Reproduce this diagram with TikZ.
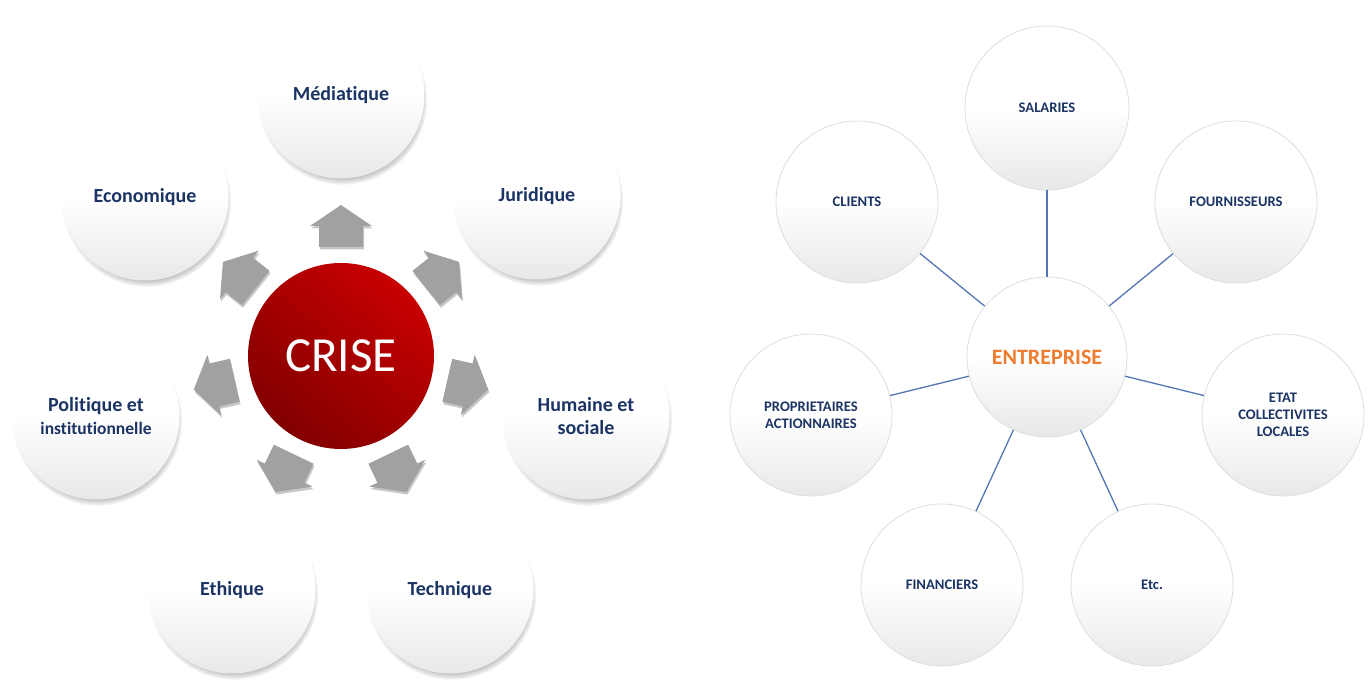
\documentclass[tikz,border=0pt]{standalone}
\usepackage{fontspec}
\setmainfont{Carlito}[Ligatures=NoCommon]
\usepackage{xcolor}
\usetikzlibrary{shadows}
\definecolor{navy}{RGB}{27,52,100}
\definecolor{crisedark}{RGB}{130,0,0}
\definecolor{criselight}{RGB}{200,0,0}
\definecolor{linkblue}{RGB}{84,117,180}
\definecolor{entorange}{RGB}{237,125,49}

\begin{document}
\begin{tikzpicture}[x=1pt,y=1pt,
	ball/.style={circle, minimum size=167pt, top color=white, bottom color=black!9, middle color=white,
		circular drop shadow={shadow scale=1.015, shadow xshift=1.5pt, shadow yshift=-5pt, opacity=0.85},
		text=navy, font=\bfseries\fontsize{20}{23}\selectfont, align=center},
	stake/.style={circle, minimum size=162pt, draw=black!13, line width=0.8pt,
		top color=white, bottom color=black!9, middle color=white,
		text=navy, font=\bfseries\fontsize{14.6}{17}\selectfont, align=center},
	crisearrow/.style={fill=black!37, preaction={fill=black!22, transform canvas={xshift=1pt, yshift=-2.5pt}}},
	link/.style={draw=linkblue, line width=1.3pt}]
	\tikzstyle{every node}+=[inner sep=0pt]
	\useasboundingbox (0,0) rectangle (1371,682);
	% left: crise
	\node [circle, minimum size=186pt, shading=axis, top color=criselight, bottom color=crisedark, shading angle=-40,
		text=white, font=\fontsize{49}{50}\selectfont] (crise) at (341,326) {CRISE};
	\node [ball] (med) at (341,587) {Médiatique};
	\node [ball] (jur) at (537,486) {Juridique};
	\node [ball] (hum) at (586,266) {Humaine et\\sociale};
	\node [ball] (tec) at (450,92) {Technique};
	\node [ball] (eth) at (232,92) {Ethique};
	\node [ball] (pol) at (96,266) {Politique et\\{\fontsize{17.5}{20}\selectfont institutionnelle}};
	\node [ball] (eco) at (145,485) {Economique};
	\fill [crisearrow, shift={(crise.center)}, rotate=0] (-22,109) -- (-22,130) -- (-31,130) -- (0,151) -- (31,130) -- (22,130) -- (22,109) -- cycle;
	\fill [crisearrow, shift={(crise.center)}, rotate=-51.43] (-22,109) -- (-22,130) -- (-31,130) -- (0,151) -- (31,130) -- (22,130) -- (22,109) -- cycle;
	\fill [crisearrow, shift={(crise.center)}, rotate=-102.86] (-22,109) -- (-22,130) -- (-31,130) -- (0,151) -- (31,130) -- (22,130) -- (22,109) -- cycle;
	\fill [crisearrow, shift={(crise.center)}, rotate=-154.29] (-22,109) -- (-22,130) -- (-31,130) -- (0,151) -- (31,130) -- (22,130) -- (22,109) -- cycle;
	\fill [crisearrow, shift={(crise.center)}, rotate=154.29] (-22,109) -- (-22,130) -- (-31,130) -- (0,151) -- (31,130) -- (22,130) -- (22,109) -- cycle;
	\fill [crisearrow, shift={(crise.center)}, rotate=102.86] (-22,109) -- (-22,130) -- (-31,130) -- (0,151) -- (31,130) -- (22,130) -- (22,109) -- cycle;
	\fill [crisearrow, shift={(crise.center)}, rotate=51.43] (-22,109) -- (-22,130) -- (-31,130) -- (0,151) -- (31,130) -- (22,130) -- (22,109) -- cycle;
	% right: entreprise
	\node [stake, minimum size=160pt, text=entorange, font=\bfseries\fontsize{22}{24}\selectfont] (ent) at (1047,325) {ENTREPRISE};
	\node [stake, minimum size=164pt] (sal) at (1047,574) {SALARIES};
	\node [stake] (cli) at (857,480) {CLIENTS};
	\node [stake] (fou) at (1236,480) {FOURNISSEURS};
	\node [stake] (eta) at (1283,267) {ETAT\\COLLECTIVITES\\LOCALES};
	\node [stake] (etc) at (1152,97) {Etc.};
	\node [stake] (fin) at (942,97) {FINANCIERS};
	\node [stake] (pro) at (811,267) {PROPRIETAIRES\\ACTIONNAIRES};
	\draw [link] (ent) -- (sal);
	\draw [link] (ent) -- (cli);
	\draw [link] (ent) -- (fou);
	\draw [link] (ent) -- (eta);
	\draw [link] (ent) -- (etc);
	\draw [link] (ent) -- (fin);
	\draw [link] (ent) -- (pro);
\end{tikzpicture}
\end{document}
